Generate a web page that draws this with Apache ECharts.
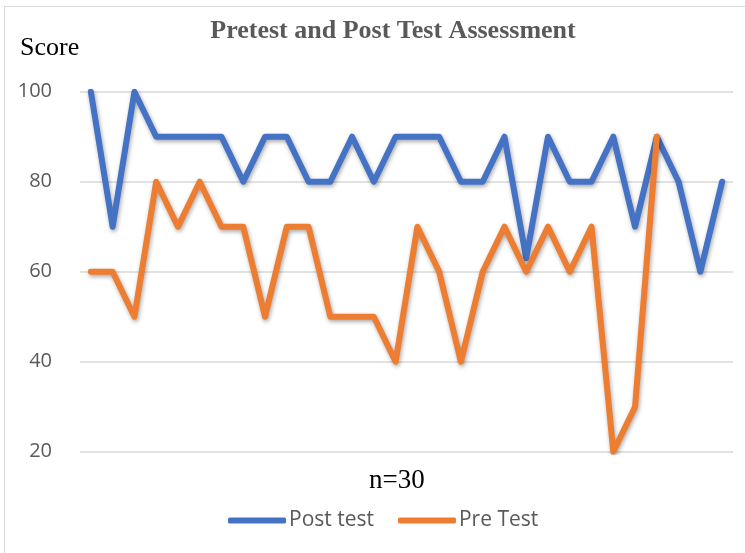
<!DOCTYPE html>
<html><head><meta charset="utf-8">
<script src="https://cdn.jsdelivr.net/npm/echarts@6/dist/echarts.min.js"></script>
<style>
html,body{margin:0;padding:0;background:#fff;}
#wrap{position:absolute;left:4px;top:6px;width:760px;height:560px;border:1px solid #d9d9d9;box-sizing:border-box;}
#c{position:absolute;left:0;top:0;width:745px;height:553px;}
</style></head>
<body>
<div id="wrap"></div>
<div id="c"></div>
<script>
const categories = Array.from({length:30},(_,i)=>String(i+1));
const postTest = [100,70,100,90,90,90,90,80,90,90,80,80,90,80,90,90,90,80,80,90,63,90,80,80,90,70,90,80,60,80];
const preTest  = [60,60,50,80,70,80,70,70,50,70,70,50,50,50,40,70,60,40,60,70,60,70,60,70,20,30,90,null,null,null];
const yTicks = [20,40,60,80,100];

const chart = echarts.init(document.getElementById('c'));
const shadow = {shadowColor:'rgba(0,0,0,0.35)',shadowBlur:4,shadowOffsetX:1,shadowOffsetY:2};
chart.setOption({
  animation:false,
  title:{text:'Pretest and Post Test Assessment',left:388,top:13,textAlign:'center',
    textStyle:{fontFamily:'Liberation Serif',fontWeight:'bold',fontSize:26,color:'#595959'}},
  graphic:[
    {type:'text',left:20,top:35,style:{text:'Score',font:'26px "Liberation Serif"',fill:'#000'}},
    {type:'text',left:369,top:467,style:{text:'n=30',font:'27px "Liberation Serif"',fill:'#000'}}
  ],
  grid:{left:80,right:12,top:91.7,bottom:101.3,containLabel:false},
  legend:{bottom:17,left:223,itemWidth:58,itemHeight:6,itemGap:24,icon:'roundRect',
    textStyle:{fontFamily:'Open Sans',fontSize:21,color:'#595959',padding:[0,0,0,-2]},
    data:['Post test','Pre Test']},
  xAxis:{type:'category',data:categories,boundaryGap:true,
    axisLine:{show:false},axisTick:{show:false},axisLabel:{show:false},splitLine:{show:false}},
  yAxis:{type:'value',min:yTicks[0],max:yTicks[yTicks.length-1],interval:20,
    axisLine:{show:false},axisTick:{show:false},
    axisLabel:{fontFamily:'Open Sans',fontSize:20,color:'#595959',margin:28},
    splitLine:{lineStyle:{color:'#d9d9d9',width:1.5}}},
  series:[
    {name:'Post test',type:'line',data:postTest,symbol:'none',color:'#4472C4',
      lineStyle:Object.assign({width:6,color:'#4472C4',cap:'round',join:'round'},shadow)},
    {name:'Pre Test',type:'line',data:preTest,symbol:'none',color:'#ED7D31',
      lineStyle:Object.assign({width:6,color:'#ED7D31',cap:'round',join:'round'},shadow)}
  ]
});
</script>
</body></html>
